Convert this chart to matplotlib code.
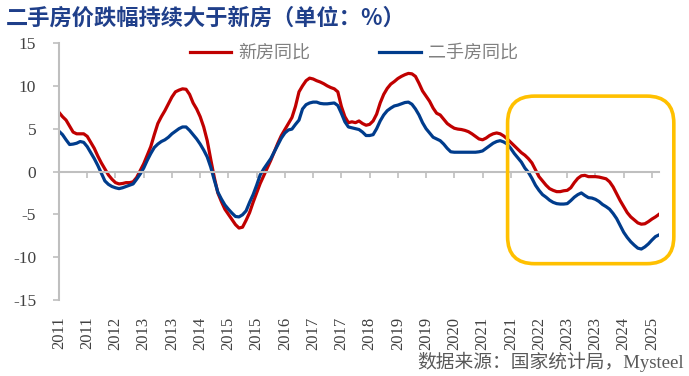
import matplotlib
matplotlib.use('Agg')
import numpy as np
import matplotlib.pyplot as plt
from matplotlib.patches import FancyBboxPatch
from matplotlib.transforms import IdentityTransform

plt.rcParams['axes.unicode_minus'] = False

# monthly YoY (%), Jan 2011 - Mar 2025
new_home = [
    6.9, 6.4, 6.0, 5.3, 4.6, 4.4, 4.4, 4.4, 4.1, 3.4, 2.7, 1.8,
    1.0, 0.3, -0.4, -0.9, -1.3, -1.45, -1.4, -1.3, -1.3, -1.2, -0.7, 0.1,
    0.9, 1.9, 2.9, 4.3, 5.6, 6.4, 7.1, 7.9, 8.7, 9.3, 9.5, 9.65,
    9.6, 9.0, 8.0, 7.3, 6.4, 5.2, 3.6, 1.4, -0.7, -2.5, -3.5, -4.4,
    -5.0, -5.6, -6.2, -6.6, -6.5, -5.7, -4.8, -3.6, -2.5, -1.4, -0.5, 0.4,
    1.3, 2.3, 3.3, 4.2, 4.9, 5.6, 6.3, 7.6, 9.3, 10.0, 10.6, 10.9,
    10.8, 10.6, 10.45, 10.25, 10.0, 9.8, 9.65, 9.3, 7.6, 6.4, 5.7, 5.8,
    5.7, 5.9, 5.6, 5.4, 5.5, 5.9, 6.7, 8.0, 9.0, 9.7, 10.2, 10.5,
    10.85, 11.1, 11.3, 11.45, 11.4, 11.1, 10.3, 9.4, 8.8, 8.2, 7.4, 6.8,
    6.6, 6.1, 5.6, 5.3, 5.05, 4.95, 4.9, 4.8, 4.65, 4.4, 4.1, 3.8,
    3.7, 3.9, 4.2, 4.4, 4.5, 4.4, 4.15, 3.8, 3.4, 3.0, 2.6, 2.2,
    1.9, 1.5, 1.0, 0.2, -0.6, -1.1, -1.6, -2.0, -2.2, -2.35, -2.35, -2.25,
    -2.2, -1.9, -1.3, -0.8, -0.5, -0.45, -0.6, -0.6, -0.6, -0.65, -0.75, -0.85,
    -1.2, -1.8, -2.6, -3.4, -4.1, -4.8, -5.3, -5.65, -6.0, -6.15, -6.1, -5.85,
    -5.55, -5.3, -5.0,
]
second_hand = [
    4.7, 4.3, 3.7, 3.15, 3.2, 3.3, 3.5, 3.4, 2.9, 2.2, 1.5, 0.7,
    -0.2, -1.1, -1.5, -1.75, -1.9, -2.0, -1.9, -1.75, -1.6, -1.45, -0.9, -0.3,
    0.4, 1.3, 2.1, 2.8, 3.2, 3.5, 3.7, 4.0, 4.4, 4.7, 5.0, 5.2,
    5.2, 4.8, 4.3, 3.8, 3.2, 2.5, 1.7, 0.5, -1.0, -2.4, -3.2, -3.9,
    -4.4, -4.85, -5.25, -5.3, -5.05, -4.6, -3.6, -2.7, -1.6, -0.4, 0.3, 0.9,
    1.5, 2.3, 3.1, 3.9, 4.5, 4.85, 4.95, 5.5, 6.0, 7.3, 7.8, 8.0,
    8.1, 8.1, 7.95, 7.9, 7.9, 7.95, 8.0, 7.7, 6.8, 5.8, 5.2, 5.1,
    5.0, 4.9, 4.6, 4.2, 4.2, 4.3, 5.0, 5.9, 6.6, 7.1, 7.4, 7.65,
    7.75, 7.9, 8.05, 8.1, 7.85, 7.3, 6.6, 5.7, 5.0, 4.5, 4.0, 3.8,
    3.6, 3.2, 2.7, 2.3, 2.25, 2.25, 2.25, 2.25, 2.25, 2.25, 2.25, 2.3,
    2.4, 2.7, 3.0, 3.3, 3.5, 3.6, 3.45, 3.2, 2.7, 2.1, 1.6, 1.1,
    0.4, -0.1, -0.8, -1.6, -2.2, -2.7, -3.0, -3.35, -3.6, -3.75, -3.8, -3.8,
    -3.75, -3.4, -3.0, -2.7, -2.5, -2.8, -3.05, -3.1, -3.25, -3.5, -3.85, -4.1,
    -4.4, -4.9, -5.5, -6.3, -7.1, -7.7, -8.2, -8.6, -8.95, -9.05, -8.8, -8.45,
    -8.0, -7.6, -7.4,
]

tick_pos = list(range(0, 169, 8))
tick_labels = ['2011', '2011', '2012', '2013', '2013', '2014', '2015', '2015',
               '2016', '2017', '2017', '2018', '2019', '2019', '2020', '2021',
               '2021', '2022', '2023', '2023', '2024', '2025']

# highlight box (data coords)
box_x = (127.1, 174.2)
box_y = (-10.76, 8.8)

red = '#C00000'
blue = '#003C8C'
grey = '#BFBFBF'
serif = ['Liberation Serif', 'Noto Sans CJK SC']
cjk = ['Noto Sans CJK SC', 'DejaVu Sans']

fig = plt.figure(figsize=(6.89, 3.76), dpi=100)
ax = fig.add_axes([59 / 689, 1 - 300 / 376, 600 / 689, 257 / 376])

x = np.arange(len(new_home))
ax.plot(x, new_home, color=red, lw=2.3, label='新房同比', solid_joinstyle='round')
ax.plot(x, second_hand, color=blue, lw=2.3, label='二手房同比', solid_joinstyle='round')

ax.set_xlim(0, len(new_home) - 1)
ax.set_ylim(-15, 15)
ax.set_yticks(range(-15, 16, 5))
for lab in ax.get_yticklabels():
    lab.set_family(serif)
ax.tick_params(axis='y', direction='out', length=4, color=grey, width=1.2,
               labelsize=12.5, labelcolor='#404040', pad=12.5)

ax.spines['top'].set_visible(False)
ax.spines['right'].set_visible(False)
ax.spines['left'].set_color(grey)
ax.spines['left'].set_linewidth(1.5)
ax.spines['bottom'].set_position(('data', 0))
ax.spines['bottom'].set_color(grey)
ax.spines['bottom'].set_linewidth(1.5)
ax.set_xticks(tick_pos)
ax.tick_params(axis='x', direction='out', length=4, color=grey, width=1.2,
               labelbottom=False)

sec = ax.secondary_xaxis('bottom')
sec.set_xticks(tick_pos, labels=tick_labels, rotation=90)
sec.spines['bottom'].set_visible(False)
sec.tick_params(length=0, pad=12, labelsize=12, labelcolor='#404040')
for lab in sec.get_xticklabels():
    lab.set_family(serif)

leg = ax.legend(loc='center', bbox_to_anchor=(354 / 689, 1 - 53 / 376),
                bbox_transform=fig.transFigure, ncol=2, frameon=False,
                handlelength=2.3, handletextpad=0.4, columnspacing=3.8,
                prop={'family': cjk, 'size': 13})
for t in leg.get_texts():
    t.set_color('#808080')

# rounded highlight box drawn in pixels so the corners stay round
(x0, y0), (x1, y1) = ax.transData.transform([(box_x[0], box_y[0]), (box_x[1], box_y[1])])
box = FancyBboxPatch((x0, y0), x1 - x0, y1 - y0,
                     boxstyle='round,pad=0,rounding_size=27',
                     transform=IdentityTransform(), fill=False,
                     edgecolor='#FFC000', lw=2.6, clip_on=False, zorder=5)
fig.patches.append(box)

fig.text(6 / 689, 1 - 7 / 376, '二手房价跌幅持续大于新房（单位：%）', family=cjk,
         fontsize=16, fontweight='bold', color='#1F3F8A', va='top', ha='left')
fig.text(684 / 689, 1 - 362 / 376, '数据来源：国家统计局，Mysteel', family=serif,
         fontsize=13.5, color='#595959', va='center', ha='right')

fig.savefig('out.png', dpi=100, facecolor='white')
